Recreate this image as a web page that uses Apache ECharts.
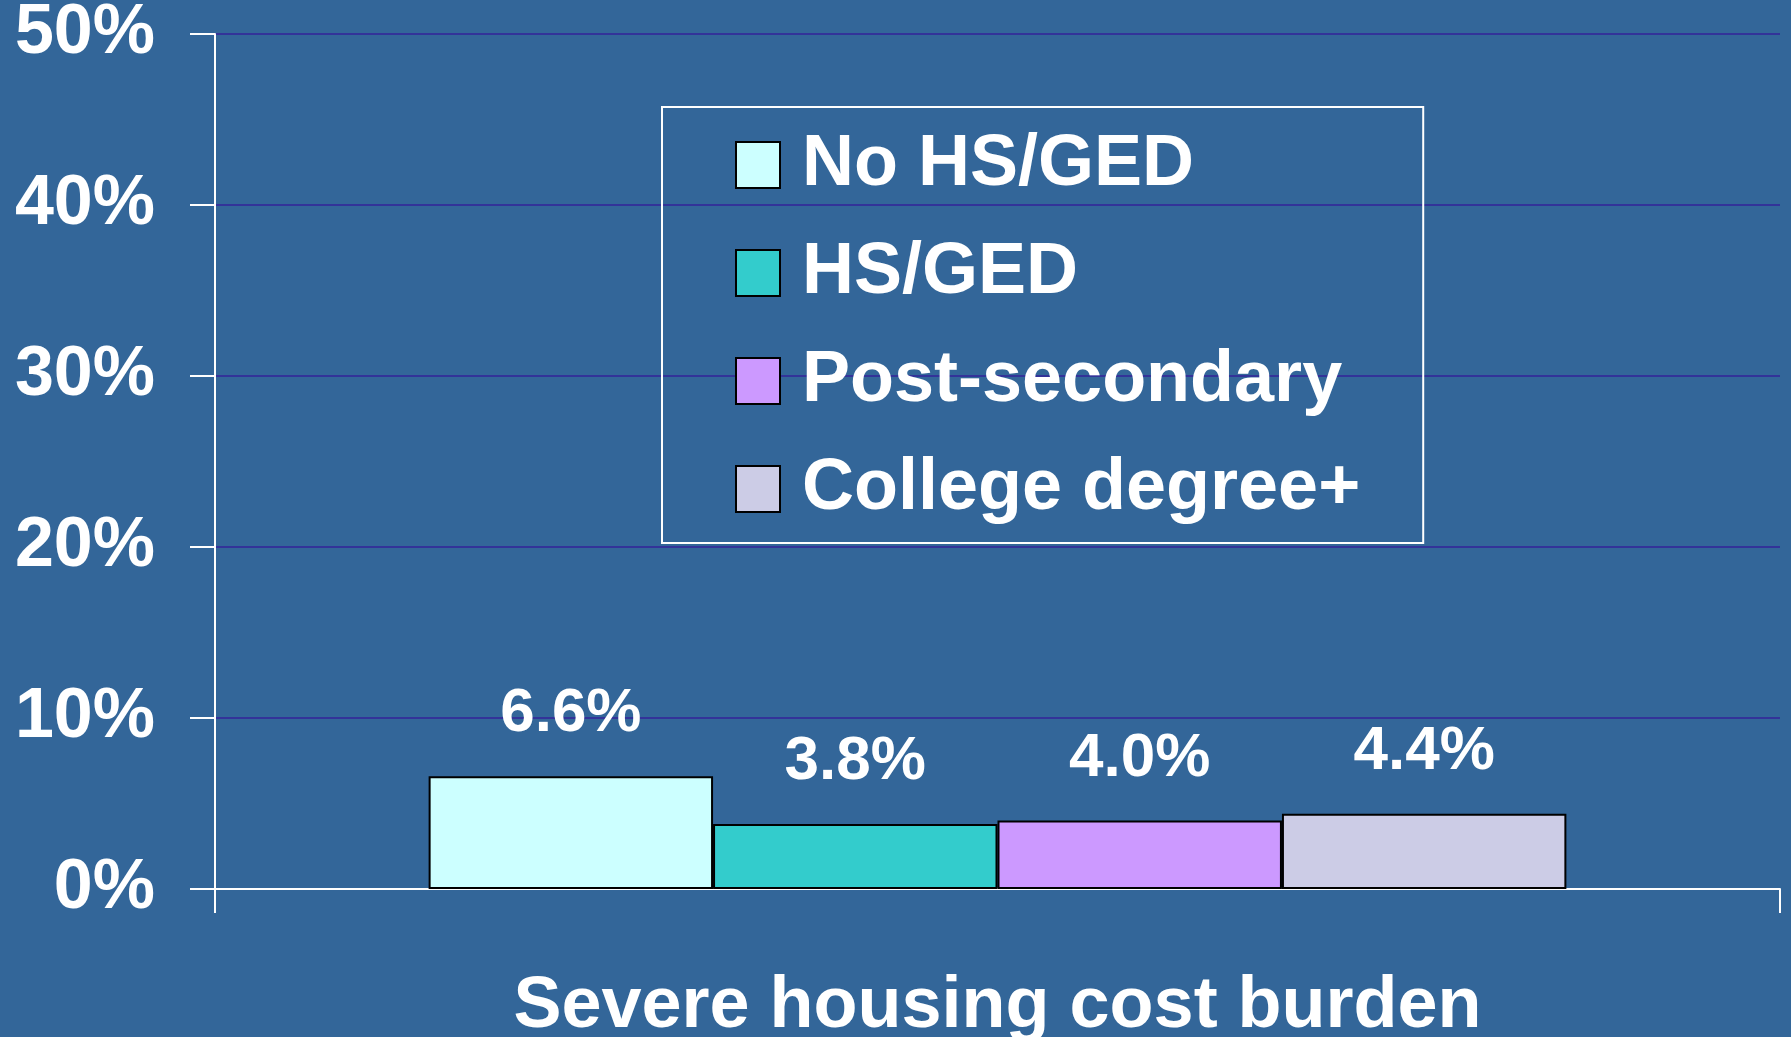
<!DOCTYPE html>
<html>
<head>
<meta charset="utf-8">
<script src="https://cdn.jsdelivr.net/npm/echarts@6/dist/echarts.min.js"></script>
<style>
html,body{margin:0;padding:0;background:#336699;}
#c{width:1791px;height:1037px;}
</style>
</head>
<body>
<div id="c"></div>
<script>
var categories = ['Severe housing cost burden'];
var seriesNames = ['No HS/GED', 'HS/GED', 'Post-secondary', 'College degree+'];
var noHS = [6.6];
var hsGED = [3.8];
var postSec = [4.0];
var college = [4.4];
var yTicks = [0, 10, 20, 30, 40, 50];
var colors = ['#CCFFFF', '#33CCCC', '#CC99FF', '#CCCCE6'];
var values = [noHS, hsGED, postSec, college];

var FONT = '"Liberation Sans", Arial, sans-serif';
var chart = echarts.init(document.getElementById('c'));
var series = seriesNames.map(function (n, i) {
  return {
    name: n,
    type: 'bar',
    data: values[i],
    barGap: '0%',
    barCategoryGap: '27.3%',
    itemStyle: { color: colors[i], borderColor: '#000', borderWidth: 2 },
    label: {
      show: true, position: 'top', distance: 31,
      color: '#fff', fontSize: 62, fontWeight: 'bold', fontFamily: FONT,
      formatter: function (p) { return p.value.toFixed(1) + '%'; }
    }
  };
});
chart.setOption({
  backgroundColor: '#336699',
  animation: false,
  grid: { left: 215, right: 11, top: 34, bottom: 148, containLabel: false, outerBoundsMode: 'none' },
  legend: {
    orient: 'vertical',
    left: 662, top: 107,
    padding: [22, 63, 18, 73],
    borderColor: '#fff', borderWidth: 2,
    itemWidth: 44, itemHeight: 46, itemGap: 36,
    icon: 'rect',
    data: seriesNames,
    textStyle: { color: '#fff', fontSize: 72, fontWeight: 'bold', fontFamily: FONT, lineHeight: 54, padding: [18, 0, 0, 17] }
  },
  xAxis: {
    type: 'category',
    data: categories,
    axisLine: { lineStyle: { color: '#fff', width: 2 } },
    axisTick: { show: true, length: 24, lineStyle: { color: '#fff', width: 2 } },
    axisLabel: { color: '#fff', fontSize: 72, fontWeight: 'bold', fontFamily: FONT, margin: 82 }
  },
  yAxis: {
    type: 'value',
    min: yTicks[0], max: yTicks[yTicks.length - 1], interval: 10,
    axisLine: { show: true, lineStyle: { color: '#fff', width: 2 } },
    axisTick: { show: true, length: 25, lineStyle: { color: '#fff', width: 2 } },
    splitLine: { show: true, lineStyle: { color: '#333399', width: 2 } },
    axisLabel: { color: '#fff', fontSize: 70, fontWeight: 'bold', fontFamily: FONT, margin: 60,
      formatter: function (v) { return v + '%'; } }
  },
  series: series
});
</script>
</body>
</html>
